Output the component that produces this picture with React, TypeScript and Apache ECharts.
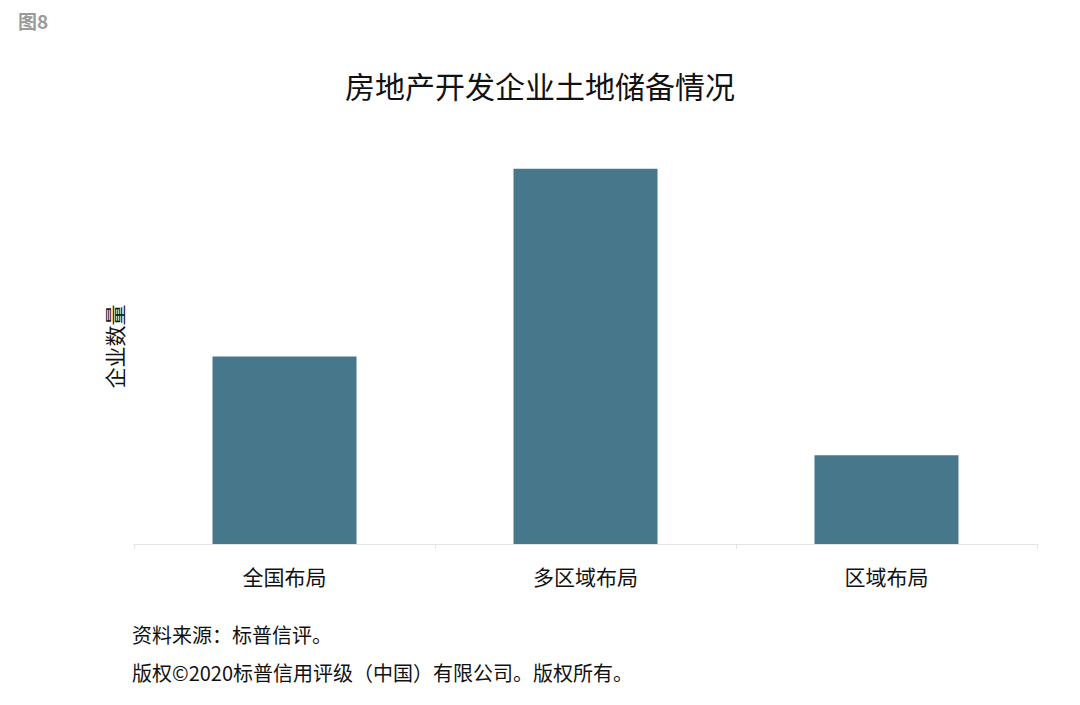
import React, { useEffect, useRef } from "react";
import * as echarts from "echarts";

const categories = ["全国布局", "多区域布局", "区域布局"];
const values = [19, 38, 9];
const chartTitle = "房地产开发企业土地储备情况";
const yAxisName = "企业数量";
const figureLabel = "图8";
const sourceNote = "资料来源：标普信评。";
const copyrightNote = "版权©2020标普信用评级（中国）有限公司。版权所有。";

const FONT = "'Noto Sans CJK SC', 'Noto Sans', sans-serif";

export default function App() {
  const ref = useRef<HTMLDivElement>(null);
  useEffect(() => {
    if (!ref.current) return;
    const chart = echarts.init(ref.current, undefined, { renderer: "svg" });
    chart.setOption({
      animation: false,
      backgroundColor: "#ffffff",
      textStyle: { fontFamily: FONT },
      title: {
        text: chartTitle,
        left: "center",
        top: 65,
        textStyle: { fontSize: 30, fontWeight: "normal", color: "#111", fontFamily: FONT },
      },
      grid: { left: 134, right: 43, top: 149, bottom: 161, containLabel: false },
      xAxis: {
        type: "category",
        data: categories,
        axisLine: { show: true, lineStyle: { color: "#e3e3e3", width: 1 } },
        axisTick: { show: true, length: 5, lineStyle: { color: "#e3e3e3" } },
        axisLabel: { fontSize: 21, color: "#111", margin: 21, fontFamily: FONT },
      },
      yAxis: {
        type: "value",
        min: 0,
        max: 40,
        interval: 10,
        name: yAxisName,
        nameLocation: "middle",
        nameGap: 10,
        nameRotate: 90,
        nameTextStyle: { fontSize: 21, color: "#111", fontFamily: FONT },
        axisLabel: { show: false },
        axisLine: { show: false },
        axisTick: { show: false },
        splitLine: { show: false },
      },
      series: [
        {
          type: "bar",
          data: values,
          barWidth: 144,
          itemStyle: { color: "#46778b" },
        },
      ],
      graphic: [
        {
          type: "text",
          left: 18,
          top: 11,
          style: { text: figureLabel, fontSize: 19, fill: "#9a9a9a", fontWeight: "bold", fontFamily: FONT },
        },
        {
          type: "text",
          left: 132,
          top: 624,
          style: { text: sourceNote, fontSize: 20, fill: "#111", fontFamily: FONT },
        },
        {
          type: "text",
          left: 132,
          top: 662,
          style: { text: copyrightNote, fontSize: 20, fill: "#111", fontFamily: FONT },
        },
      ],
    });
    return () => chart.dispose();
  }, []);
  return (
    <div
      ref={ref}
      style={{ position: "fixed", left: 0, top: 0, width: 1080, height: 705, background: "#fff" }}
    />
  );
}
